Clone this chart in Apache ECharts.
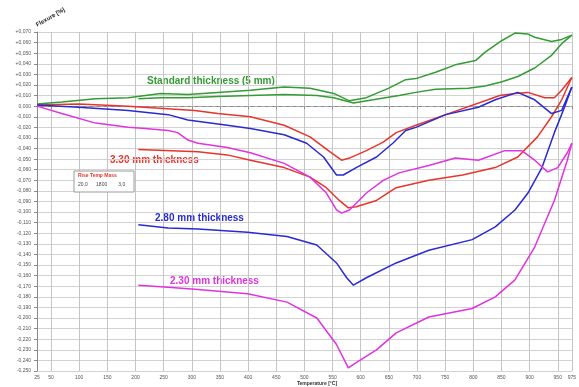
<!DOCTYPE html>
<html>
<head>
<meta charset="utf-8">
<script src="https://cdn.jsdelivr.net/npm/echarts@6/dist/echarts.min.js"></script>
<style>
  html, body { margin: 0; padding: 0; background: #fff; }
  #chart { width: 579px; height: 387px; }
</style>
</head>
<body>
<div id="chart"></div>
<script>
// temperature [°C] vs flexure, heating and cooling run for each thickness
const xTicks = [25, 50, 100, 150, 200, 250, 300, 350, 400, 450, 500, 550, 600, 650, 700, 750, 800, 850, 900, 950, 975];

const greenHeating = [[25, 0.002], [69, 0.004], [129, 0.007], [187, 0.008], [245, 0.012], [293, 0.011], [346, 0.013], [404, 0.015], [464, 0.018], [510, 0.017], [552, 0.012], [580, 0.005], [610, 0.008], [650, 0.017], [680, 0.025], [698, 0.026], [733, 0.032], [768, 0.039], [804, 0.043], [821, 0.051], [851, 0.062], [874, 0.069], [897, 0.068], [909, 0.065], [939, 0.061], [957, 0.063], [975, 0.067]];
const greenCooling = [[205, 0.007], [245, 0.008], [293, 0.008], [346, 0.009], [404, 0.010], [464, 0.011], [522, 0.010], [552, 0.008], [587, 0.003], [622, 0.006], [668, 0.010], [698, 0.013], [733, 0.016], [791, 0.017], [821, 0.019], [851, 0.023], [879, 0.028], [909, 0.036], [939, 0.048], [957, 0.059], [975, 0.067]];

const redHeating = [[25, 0.001], [99, 0.002], [187, 0.000], [305, -0.004], [346, -0.007], [404, -0.010], [464, -0.018], [510, -0.029], [545, -0.043], [566, -0.051], [580, -0.049], [610, -0.042], [640, -0.034], [663, -0.025], [698, -0.018], [751, -0.008], [826, 0.006], [847, 0.010], [874, 0.012], [897, 0.013], [927, 0.008], [944, 0.008], [957, 0.015], [975, 0.027]];
const redCooling = [[205, -0.041], [311, -0.043], [363, -0.046], [404, -0.051], [464, -0.058], [510, -0.067], [539, -0.077], [562, -0.089], [578, -0.096], [592, -0.095], [628, -0.089], [663, -0.077], [721, -0.070], [781, -0.065], [839, -0.058], [879, -0.048], [914, -0.029], [939, -0.010], [957, 0.006], [975, 0.027]];

const blueHeating = [[25, 0.001], [99, -0.001], [187, -0.004], [258, -0.008], [293, -0.013], [363, -0.018], [404, -0.021], [464, -0.027], [504, -0.035], [534, -0.048], [557, -0.065], [569, -0.065], [592, -0.058], [628, -0.048], [657, -0.035], [680, -0.023], [698, -0.020], [751, -0.008], [809, -0.001], [839, 0.006], [879, 0.013], [909, 0.006], [939, -0.007], [957, -0.004], [975, 0.018]];
const blueCooling = [[205, -0.112], [258, -0.115], [311, -0.116], [399, -0.119], [469, -0.123], [522, -0.131], [557, -0.148], [575, -0.162], [587, -0.169], [610, -0.162], [663, -0.148], [721, -0.136], [798, -0.126], [839, -0.114], [874, -0.098], [897, -0.082], [922, -0.058], [944, -0.025], [962, -0.001], [975, 0.018]];

const magentaHeating = [[25, 0.000], [69, -0.007], [129, -0.016], [187, -0.020], [217, -0.021], [258, -0.023], [275, -0.025], [293, -0.032], [311, -0.035], [363, -0.039], [404, -0.044], [464, -0.054], [510, -0.067], [539, -0.082], [557, -0.098], [566, -0.101], [580, -0.098], [610, -0.082], [640, -0.070], [668, -0.063], [721, -0.056], [768, -0.049], [809, -0.051], [856, -0.042], [886, -0.042], [909, -0.051], [932, -0.062], [950, -0.058], [967, -0.044], [975, -0.035]];
const magentaCooling = [[205, -0.169], [258, -0.171], [311, -0.173], [399, -0.177], [469, -0.185], [522, -0.200], [557, -0.225], [578, -0.247], [592, -0.242], [628, -0.230], [663, -0.214], [721, -0.199], [798, -0.191], [839, -0.180], [874, -0.164], [909, -0.133], [944, -0.089], [967, -0.051], [975, -0.035]];

const GREEN = "#339c33";
const RED = "#e8352b";
const BLUE = "#2a2ad2";
const MAGENTA = "#e033e0";

const chart = echarts.init(document.getElementById("chart"));

const line = (data, color, extra) => Object.assign({
  type: "line",
  data: data,
  showSymbol: false,
  symbol: "none",
  animation: false,
  lineStyle: { color: color, width: 1.5 },
  z: 3,
}, extra || {});

const fmtY = (v) => {
  const r = Math.round(v * 1000) / 1000;
  const s = Math.abs(r).toFixed(3).replace(".", ",");
  if (r > 0) return "+" + s;
  if (r < 0) return "-" + s;
  return s;
};

const option = {
  backgroundColor: "#fff",
  animation: false,
  grid: { left: 37, right: 1, top: 32, bottom: 16 },
  xAxis: {
    type: "value",
    min: 25,
    max: 975,
    axisLine: { show: true, lineStyle: { color: "#8a8a8a", width: 1 } },
    axisTick: { show: true, length: 3, customValues: xTicks, lineStyle: { color: "#8a8a8a" } },
    axisLabel: {
      customValues: xTicks,
      color: "#555",
      fontSize: 5,
      fontFamily: "Liberation Sans",
      margin: 4,
    },
    splitLine: { show: true, lineStyle: { color: "#c4c4c4", width: 1 } },
  },
  yAxis: {
    type: "value",
    min: -0.25,
    max: 0.07,
    interval: 0.01,
    axisLine: { show: true, lineStyle: { color: "#8a8a8a", width: 1 } },
    axisTick: { show: true, length: 3, lineStyle: { color: "#8a8a8a" } },
    axisLabel: {
      color: "#555",
      fontSize: 5,
      fontFamily: "Liberation Sans",
      margin: 6,
      formatter: fmtY,
    },
    splitLine: { show: true, lineStyle: { color: "#d2d2d2", width: 1 } },
  },
  series: [
    line(greenHeating, GREEN, {
      markLine: {
        silent: true,
        symbol: "none",
        label: { show: false },
        lineStyle: { color: "#a8a8a8", type: [4, 3], width: 1 },
        data: [{ yAxis: 0 }],
        z: 2,
      },
    }),
    line(greenCooling, GREEN),
    line(redHeating, RED),
    line(redCooling, RED),
    line(blueHeating, BLUE),
    line(blueCooling, BLUE),
    line(magentaHeating, MAGENTA),
    line(magentaCooling, MAGENTA),
  ],
  graphic: [
    {
      type: "text", x: 38, y: 28, rotation: Math.PI / 6,
      style: { text: "Flexure [%]", fill: "#222", font: "bold 6px Liberation Sans", textVerticalAlign: "bottom" },
    },
    {
      type: "text", x: 317, y: 381,
      style: { text: "Temperature [°C]", fill: "#333", font: "bold 5px Liberation Sans", textAlign: "center" },
    },
    {
      type: "text", x: 147, y: 76,
      style: { text: "Standard thickness (5 mm)", fill: GREEN, font: "bold 10px Liberation Sans" },
    },
    {
      type: "text", x: 110, y: 155,
      style: { text: "3.30 mm thickness", fill: RED, font: "bold 10px Liberation Sans" },
    },
    {
      type: "text", x: 155, y: 213,
      style: { text: "2.80 mm thickness", fill: BLUE, font: "bold 10px Liberation Sans" },
    },
    {
      type: "text", x: 170, y: 276,
      style: { text: "2.30 mm thickness", fill: MAGENTA, font: "bold 10px Liberation Sans" },
    },
    {
      type: "rect", shape: { x: 74, y: 171, width: 60, height: 21 },
      style: { fill: "#fff", stroke: "#9a9a9a", lineWidth: 1 }, z: 10,
    },
    {
      type: "text", x: 78, y: 173, z: 11,
      style: { text: "Rise Temp Mass", fill: RED, font: "bold 5px Liberation Sans" },
    },
    {
      type: "text", x: 78, y: 182, z: 11,
      style: { text: "20,0      1800        3,0", fill: "#444", font: "5px Liberation Sans" },
    },
  ],
};

chart.setOption(option);
</script>
</body>
</html>
